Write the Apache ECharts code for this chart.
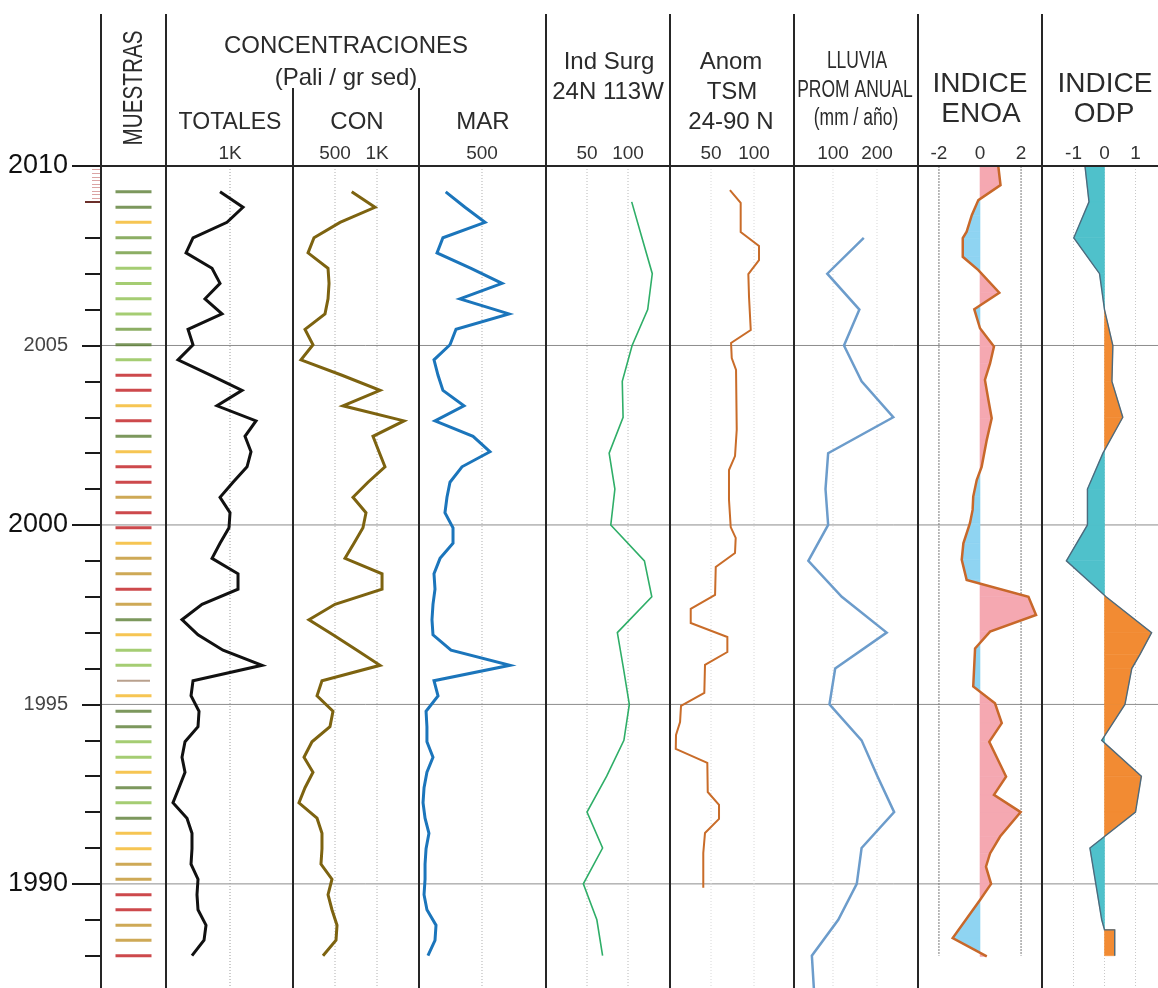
<!DOCTYPE html>
<html>
<head>
<meta charset="utf-8">
<script src="https://cdn.jsdelivr.net/npm/echarts@6/dist/echarts.min.js"></script>
<style>
  html, body { margin: 0; padding: 0; background: #ffffff; }
  #chart { width: 1158px; height: 988px; }
</style>
</head>
<body>
<div id="chart"></div>
<script>
// ---- Core samples (year of each sediment sample, top to bottom) ----
const sampleYears = [
  2009.28, 2008.85, 2008.43, 2008.00, 2007.58, 2007.15, 2006.73, 2006.30, 2005.88, 2005.45,
  2005.02, 2004.60, 2004.17, 2003.75, 2003.32, 2002.90, 2002.47, 2002.04, 2001.62, 2001.19,
  2000.77, 2000.34, 1999.92, 1999.49, 1999.07, 1998.64, 1998.21, 1997.79, 1997.36, 1996.94,
  1996.51, 1996.09, 1995.66, 1995.24, 1994.81, 1994.38, 1993.96, 1993.53, 1993.11, 1992.68,
  1992.26, 1991.83, 1991.41, 1990.98, 1990.55, 1990.13, 1989.70, 1989.28, 1988.85, 1988.43,
  1988.00
];
// sample class: D dark green, M mid green, L light green, Y yellow, O ochre, R red, B brown
const sampleTypes = [
  'D','D','Y','M','M','L','L','L','L','M',
  'D','L','R','R','Y','R','D','Y','R','R',
  'O','R','R','Y','O','O','R','O','D','Y',
  'L','L','B','Y','D','D','L','L','Y','D',
  'L','D','Y','Y','O','O','R','R','O','O',
  'R'
];

// ---- Pollen concentrations (Pali / gr sed) per sample ----
const totales = [
  844, 1203, 953, 422, 313, 719, 844, 609, 875, 344,
  422, 188, 703, 1188, 797, 1406, 1234, 1328, 1266, 1047,
  844, 1000, 984, 844, 719, 1125, 1125, 563, 250, 500,
  891, 1500, 422, 391, 516, 500, 297, 250, 297, 203,
  109, 328, 406, 406, 391, 500, 484, 500, 625, 594,
  406
];
const con = [
  699, 976, 560, 250, 179, 417, 429, 417, 381, 143,
  238, 95, 583, 1036, 595, 1321, 952, 1024, 1095, 893,
  714, 869, 833, 726, 619, 1060, 1060, 500, 190, 476,
  762, 1036, 345, 286, 476, 440, 226, 131, 238, 143,
  71, 286, 345, 345, 333, 464, 417, 464, 524, 512,
  357
];
const mar = [
  212, 365, 524, 190, 143, 413, 659, 325, 714, 294,
  246, 119, 151, 190, 357, 127, 429, 563, 341, 246,
  222, 206, 270, 270, 167, 119, 127, 111, 103, 111,
  254, 722, 119, 151, 56, 63, 63, 111, 63, 40,
  32, 48, 79, 56, 48, 48, 40, 63, 135, 127,
  71
];

// ---- Upwelling index 24N 113W ----
const surgYears = [2009, 2008, 2007, 2006, 2005, 2004, 2003, 2002, 2001, 2000, 1999,
                   1998, 1997, 1996, 1995, 1994, 1993, 1992, 1991, 1990, 1989, 1988];
const surgIndex = [104.5, 117, 129.6, 124, 105, 93, 94, 77, 84, 79, 120,
                   129, 87, 94.5, 101.6, 95, 74, 50, 69, 45.5, 62, 69];

// ---- SST anomaly 24-90 N ----
const tsmYears = [
  2009.33, 2008.97, 2008.16, 2007.77, 2007.38, 2006.99, 2006.35, 2005.43, 2005.07, 2004.65,
  2004.32, 2002.65, 2001.92, 2001.53, 2000.70, 1999.94, 1999.64, 1999.22, 1998.83, 1998.05,
  1997.66, 1997.27, 1996.88, 1996.46, 1996.10, 1995.32, 1994.96, 1994.51, 1994.15, 1993.76,
  1993.37, 1992.56, 1992.20, 1991.81, 1991.42, 1990.86, 1989.89
];
const tsmAnom = [
  72, 84.5, 84.5, 105.8, 105.8, 93.4, 94.2, 96.2, 73.3, 74.1,
  79.1, 79.9, 77.9, 70.9, 70.9, 72.9, 78.7, 77.9, 55.5, 54.7,
  26.4, 26.4, 69, 69, 43, 42.2, 15.1, 14, 9.3, 9,
  45.7, 46.2, 59.3, 59.3, 43, 41, 41
];

// ---- Mean annual rainfall (mm / año) ----
const lluviaYears = [2008, 2007, 2006, 2005, 2004, 2003, 2002, 2001, 2000, 1999, 1998,
                     1997, 1996, 1995, 1994, 1993, 1992, 1991, 1990, 1989, 1988, 1987];
const lluvia = [170, 87, 160, 125, 165, 237, 89, 83, 89, 44, 120,
                222, 105, 92, 165, 201, 239, 165, 154, 112, 52, 57];

// ---- ENOA index ----
const enoaYears = [
  2010.00, 2009.47, 2009.05, 2008.63, 2008.17, 2007.99, 2007.47, 2007.10, 2006.47, 2006.01,
  2005.48, 2004.97, 2004.50, 2004.04, 2003.48, 2002.97, 2002.37, 2001.62, 2001.25, 2000.79,
  2000.42, 2000.05, 1999.49, 1999.03, 1998.47, 1998.00, 1997.49, 1997.03, 1996.56, 1995.50,
  1995.03, 1994.48, 1993.96, 1992.99, 1992.48, 1992.00, 1991.32, 1990.85, 1990.48, 1990.00,
  1989.55, 1988.49, 1987.98
];
const enoa = [
  0.89, 1.0, -0.08, -0.4, -0.65, -0.84, -0.84, -0.08, 0.94, -0.28,
  0.0, 0.68, 0.49, 0.24, 0.41, 0.57, 0.33, 0.08, -0.16, -0.33,
  -0.36, -0.49, -0.81, -0.89, -0.65, 2.36, 2.73, 0.49, -0.24, -0.33,
  0.73, 1.06, 0.45, 1.27, 0.68, 1.98, 0.98, 0.49, 0.29, 0.54,
  0.0, -1.33, 0.33
];

// ---- PDO index ----
const odpYears = [2010.0, 2009.0, 2008.0, 2007.0, 2006.0, 2005.0, 2004.0, 2003.0, 2002.0, 2001.0,
                  2000.0, 1999.0, 1998.0, 1997.0, 1996.4, 1996.0, 1995.0, 1994.0, 1993.0, 1992.0,
                  1991.0, 1990.0, 1989.0, 1988.72, 1988.72, 1988.0];
const odp = [-0.63, -0.5, -0.99, -0.16, 0.0, 0.27, 0.24, 0.59, -0.05, -0.55,
             -0.55, -1.23, 0.05, 1.52, 1.15, 0.88, 0.66, -0.09, 1.19, 1.0,
             -0.47, -0.28, -0.09, 0.0, 0.33, 0.33];

// ---- Axis ticks and labels ----
const yearLabels = [1990, 1995, 2000, 2005, 2010];
const decadeTicks = [1990, 2000, 2010];
const halfDecadeTicks = [1995, 2005];
const yearTicks = [1988, 1989, 1991, 1992, 1993, 1994, 1996, 1997, 1998, 1999,
                   2001, 2002, 2003, 2004, 2006, 2007, 2008];
const yearTick2009 = [2009];
const monthTicks = [2009.1, 2009.2, 2009.3, 2009.4, 2009.5, 2009.6, 2009.7, 2009.8, 2009.9];
const gridYears = [1990, 1995, 2000, 2005];

const ticksTotales = [1000];
const ticksCon = [500, 1000];
const ticksMar = [500];
const ticksSurg = [50, 100];
const ticksTsm = [50, 100];
const ticksLluvia = [100, 200];
const ticksEnoa = [-2, 0, 2];
const ticksOdp = [-1, 0, 1];

const refTotales = [1000];
const refCon = [500, 1000];
const refMar = [500];
const refSurg = [50, 100];
const refTsm = [50, 100];
const refLluvia = [100, 200];
const refEnoa = [-2, 2];
const refOdp = [-1, 0, 1];

// ---- Layout ----
const FONT = 'Liberation Sans, Arial, Helvetica, sans-serif';
const TOP = 166, HEIGHT = 822;
const YMIN = 1987.1, YMAX = 2010;

// panel strips: [left, width, xMin, xMax]
const strips = [
  [101, 65, 0, 1],            // 0 muestras
  [166, 127, 0, 1984],        // 1 totales
  [293, 126, 0, 1500],        // 2 con
  [419, 127, 0, 1008],        // 3 mar
  [546, 124, 0, 151.2],       // 4 ind surg
  [670, 124, 2.3, 146.5],     // 5 anom tsm
  [794, 124, 11.4, 293.2],    // 6 lluvia
  [918, 124, -3.02, 3.02],    // 7 enoa
  [1042, 116, -2.016, 1.726], // 8 odp
  [101, 1057, 0, 1]           // 9 background rules
];
const stripTicks = [[], ticksTotales, ticksCon, ticksMar, ticksSurg, ticksTsm, ticksLluvia, ticksEnoa, ticksOdp, []];

const markerColors = {
  D: '#5b7e35', M: '#6f9a3d', L: '#8fc150', Y: '#f4b728',
  O: '#c2932c', R: '#c11b1f', B: '#a78a72'
};

const pairs = (xs, ys) => xs.map((v, i) => [v, ys[i]]);

// split a signed profile into fill segments on either side of zero
function signedSegments(years, vals) {
  const segs = [];
  for (let i = 0; i < vals.length - 1; i++) {
    const y0 = years[i], v0 = vals[i], y1 = years[i + 1], v1 = vals[i + 1];
    if (v0 * v1 < 0) {
      const t = v0 / (v0 - v1);
      const yc = y0 + t * (y1 - y0);
      segs.push([v0, y0, 0, yc, v0 > 0 ? 1 : -1]);
      segs.push([0, yc, v1, y1, v1 > 0 ? 1 : -1]);
    } else {
      segs.push([v0, y0, v1, y1, (v0 + v1) >= 0 ? 1 : -1]);
    }
  }
  return segs;
}

// y-axis index used by each strip (strip 0 owns axes 0..4)
const yIdx = g => (g === 0 ? 0 : 4 + g);

const grids = strips.map(s => ({ left: s[0], top: TOP, width: s[1], height: HEIGHT }));

const xAxes = strips.map((s, g) => ({
  gridIndex: g, type: 'value', position: 'top', min: s[2], max: s[3],
  show: stripTicks[g].length > 0,
  axisLine: { show: false }, axisTick: { show: false }, splitLine: { show: false },
  axisLabel: {
    show: stripTicks[g].length > 0,
    customValues: stripTicks[g],
    formatter: v => (v === 1000 ? '1K' : String(v)),
    fontSize: 19, color: '#333', fontFamily: FONT, margin: 3
  }
}));

function tickAxis(values, length, color, width) {
  return {
    gridIndex: 0, type: 'value', position: 'left', min: YMIN, max: YMAX,
    axisLine: { show: false }, splitLine: { show: false },
    axisLabel: { show: false },
    axisTick: { show: true, customValues: values, length: length, lineStyle: { color: color, width: width } }
  };
}

const yAxes = [
  {
    gridIndex: 0, type: 'value', position: 'left', min: YMIN, max: YMAX,
    axisLine: { show: false }, splitLine: { show: false },
    axisTick: { show: true, customValues: decadeTicks, length: 29, lineStyle: { color: '#1a1a1a', width: 2 } },
    axisLabel: {
      customValues: yearLabels, margin: 33, fontFamily: FONT,
      formatter: v => (v % 10 === 0 ? '{big|' + v + '}' : '{small|' + v + '}'),
      rich: {
        big: { fontSize: 27, color: '#111', fontFamily: FONT },
        small: { fontSize: 20, color: '#444', fontFamily: FONT }
      }
    }
  },
  tickAxis(halfDecadeTicks, 19, '#1a1a1a', 2),
  tickAxis(yearTicks, 16, '#1a1a1a', 2),
  tickAxis(yearTick2009, 16, '#6b2f2a', 2),
  tickAxis(monthTicks, 9, '#dba4a4', 1)
];
for (let g = 1; g < strips.length; g++) {
  yAxes.push({ gridIndex: g, type: 'value', min: YMIN, max: YMAX, show: false, splitLine: { show: false } });
}

// vertical reference lines (dotted) inside a strip
function refLines(g, values, color, dash, fromYear, toYear) {
  return {
    type: 'custom', xAxisIndex: g, yAxisIndex: yIdx(g), silent: true, z: 1,
    data: values.map(v => [v, YMAX]),
    encode: { x: 0, y: 1 },
    renderItem: (params, api) => {
      const v = api.value(0);
      const a = api.coord([v, fromYear]);
      const b = api.coord([v, toYear]);
      return { type: 'line', shape: { x1: a[0], y1: a[1], x2: b[0], y2: b[1] },
               style: { stroke: color, lineWidth: 1, lineDash: dash } };
    }
  };
}

function profile(g, xs, ys, color, width, z) {
  return {
    type: 'line', xAxisIndex: g, yAxisIndex: yIdx(g), data: pairs(xs, ys),
    symbol: 'none', showSymbol: false, silent: true, z: z || 3,
    lineStyle: { color: color, width: width, join: 'miter' }
  };
}

function signedFill(g, years, vals, posColor, negColor) {
  return {
    type: 'custom', xAxisIndex: g, yAxisIndex: yIdx(g), silent: true, z: 2,
    dimensions: ['v0', 'y0', 'v1', 'y1', 's'],
    data: signedSegments(years, vals),
    encode: { x: [0, 2], y: [1, 3] },
    renderItem: (params, api) => {
      const v0 = api.value(0), y0 = api.value(1), v1 = api.value(2), y1 = api.value(3);
      const c = api.value(4) > 0 ? posColor : negColor;
      const pts = [api.coord([0, y0]), api.coord([v0, y0]), api.coord([v1, y1]), api.coord([0, y1])];
      return { type: 'polygon', shape: { points: pts }, style: { fill: c, stroke: c, lineWidth: 0.6 } };
    }
  };
}

const series = [
  // horizontal year rules across all strips
  {
    type: 'custom', xAxisIndex: 9, yAxisIndex: yIdx(9), silent: true, z: 0,
    data: gridYears.map(y => [0, y]), encode: { x: 0, y: 1 },
    renderItem: (params, api) => {
      const yr = api.value(1);
      const a = api.coord([0, yr]), b = api.coord([1, yr]);
      return { type: 'line', shape: { x1: a[0], y1: a[1], x2: b[0], y2: b[1] },
               style: { stroke: '#8c8c8c', lineWidth: 1 } };
    }
  },
  // sample markers
  {
    type: 'scatter', xAxisIndex: 0, yAxisIndex: 0, symbol: 'rect', silent: true, z: 3,
    data: sampleYears.map((y, i) => ({
      value: [0.5, y],
      symbolSize: sampleTypes[i] === 'B' ? [33, 2] : [36, 3],
      itemStyle: { color: markerColors[sampleTypes[i]] }
    }))
  },
  refLines(1, refTotales, '#9a9a9a', [1, 2], YMAX, YMIN),
  refLines(2, refCon, '#b0b0b0', [1, 2], YMAX, YMIN),
  refLines(3, refMar, '#b0b0b0', [1, 2], YMAX, YMIN),
  refLines(4, refSurg, '#b8b8b8', [1, 2], YMAX, YMIN),
  refLines(5, refTsm, '#d8d8d8', [1, 2], YMAX, YMIN),
  refLines(6, refLluvia, '#d8d8d8', [1, 2], YMAX, YMIN),
  refLines(7, refEnoa, '#7a7a7a', [2, 1], YMAX, 1988.0),
  refLines(8, refOdp, '#c8c8c8', [1, 2], YMAX, YMIN),

  profile(1, totales, sampleYears, '#111111', 3),
  profile(2, con, sampleYears, '#7d6310', 3),
  profile(3, mar, sampleYears, '#1b75bb', 3),
  profile(4, surgIndex, surgYears, '#2fae68', 1.6),
  profile(5, tsmAnom, tsmYears, '#c96c29', 2),
  profile(6, lluvia, lluviaYears, '#6c9ccb', 2.5),

  signedFill(7, enoaYears, enoa, '#f5a8b1', '#8fd4f2'),
  profile(7, enoa, enoaYears, '#c8682a', 2.5, 4),
  signedFill(8, odpYears, odp, '#f28b33', '#4fc1cb'),
  profile(8, odp, odpYears, '#4d6a7d', 1.4, 4)
];

// ---- Frame: strip dividers and header rule ----
const frameLines = [
  [101, 14, 101, 988], [166, 14, 166, 988], [293, 88, 293, 988], [419, 88, 419, 988],
  [546, 14, 546, 988], [670, 14, 670, 988], [794, 14, 794, 988], [918, 14, 918, 988],
  [1042, 14, 1042, 988], [101, 166, 1158, 166]
];

// ---- Column headings ----
const headings = [
  { t: 'MUESTRAS', x: 134, y: 88, fs: 28, sx: 0.74, rot: Math.PI / 2 },
  { t: 'CONCENTRACIONES', x: 346, y: 46, fs: 24 },
  { t: '(Pali / gr sed)', x: 346, y: 78, fs: 24 },
  { t: 'TOTALES', x: 230, y: 122, fs: 24, sx: 0.96 },
  { t: 'CON', x: 357, y: 122, fs: 24 },
  { t: 'MAR', x: 483, y: 122, fs: 24 },
  { t: 'Ind Surg', x: 609, y: 62, fs: 24 },
  { t: '24N 113W', x: 608, y: 92, fs: 24 },
  { t: 'Anom', x: 731, y: 62, fs: 24 },
  { t: 'TSM', x: 732, y: 92, fs: 24 },
  { t: '24-90 N', x: 731, y: 122, fs: 24 },
  { t: 'LLUVIA', x: 857, y: 62, fs: 23, sx: 0.76 },
  { t: 'PROM ANUAL', x: 855, y: 91, fs: 23, sx: 0.76 },
  { t: '(mm / año)', x: 856, y: 119, fs: 23, sx: 0.76 },
  { t: 'INDICE', x: 980, y: 84, fs: 28 },
  { t: 'ENOA', x: 981, y: 114, fs: 28 },
  { t: 'INDICE', x: 1105, y: 84, fs: 28 },
  { t: 'ODP', x: 1104, y: 114, fs: 28 }
];

const graphics = [];
frameLines.forEach(l => graphics.push({
  type: 'line', z: 5, silent: true,
  shape: { x1: l[0], y1: l[1], x2: l[2], y2: l[3] },
  style: { stroke: '#262626', lineWidth: 2 }
}));
headings.forEach(h => graphics.push({
  type: 'text', x: h.x, y: h.y, z: 5, silent: true,
  rotation: h.rot || 0, scaleX: h.sx || 1, scaleY: 1,
  style: { text: h.t, fontSize: h.fs, fontFamily: FONT, fill: '#2b2b2b',
           textAlign: 'center', textVerticalAlign: 'middle', align: 'center', verticalAlign: 'middle' }
}));

const chart = echarts.init(document.getElementById('chart'), null, { renderer: 'canvas' });
chart.setOption({
  animation: false,
  backgroundColor: '#ffffff',
  textStyle: { fontFamily: FONT },
  grid: grids,
  xAxis: xAxes,
  yAxis: yAxes,
  series: series,
  graphic: { elements: graphics }
});
</script>
</body>
</html>
